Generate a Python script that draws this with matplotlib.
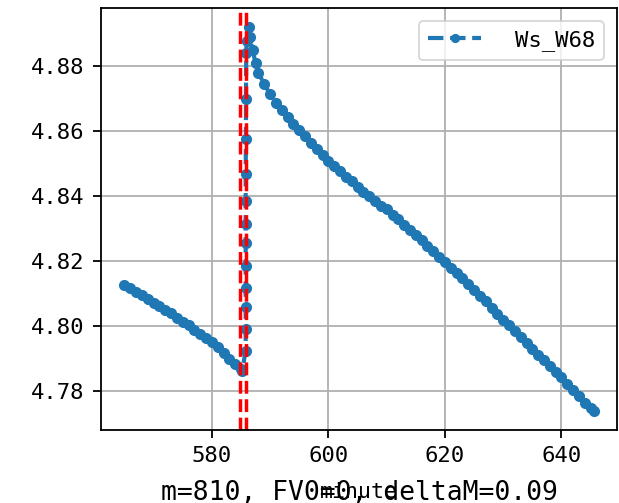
import numpy as np
import matplotlib
matplotlib.use("Agg")
import matplotlib.pyplot as plt

plt.rcParams['font.family'] = ['DejaVu Sans Mono', 'DejaVu Sans']

# minute readings before the jump
t_before = [565, 566, 567, 568, 569, 570, 571, 572, 573, 574, 575, 576, 577,
            578, 579, 580, 581, 582, 583, 584, 585, 585.2]
w_before = [4.8128, 4.8118, 4.8107, 4.8096, 4.8085, 4.8073, 4.8062, 4.8051,
            4.8040, 4.8027, 4.8013, 4.8003, 4.7990, 4.7978, 4.7964, 4.7951,
            4.7935, 4.7918, 4.7901, 4.7884, 4.7868, 4.7863]

# the jump itself
t_jump = [585.8, 585.8, 585.8, 585.8, 585.8, 585.8, 585.8, 585.8, 585.8,
          585.85, 585.85, 585.9, 586.0]
w_jump = [4.7925, 4.7993, 4.8061, 4.8119, 4.8187, 4.8258, 4.8316, 4.8387,
          4.8470, 4.8578, 4.8701, 4.8843, 4.8880]

# decay after the jump
t_after = [586.3, 586.5, 587, 587.5, 588, 589, 590, 591, 592, 593, 594, 595,
           596, 597, 598, 599, 600, 601, 602, 603, 604, 605, 606, 607, 608,
           609, 610, 611, 612, 613, 614, 615, 616, 617, 618, 619, 620, 621,
           622, 623, 624, 625, 626, 627, 628, 629, 630, 631, 632, 633, 634,
           635, 636, 637, 638, 639, 640, 641, 642, 643, 644, 645, 645.5]
w_after = [4.8921, 4.8890, 4.8850, 4.8810, 4.8780, 4.8745, 4.8715, 4.8688,
           4.8665, 4.8643, 4.8623, 4.8605, 4.8587, 4.8565, 4.8545, 4.8528,
           4.8510, 4.8494, 4.8478, 4.8461, 4.8447, 4.8430, 4.8415, 4.8400,
           4.8386, 4.8372, 4.8360, 4.8344, 4.8330, 4.8313, 4.8296, 4.8280,
           4.8265, 4.8248, 4.8232, 4.8215, 4.8198, 4.8181, 4.8164, 4.8148,
           4.8130, 4.8113, 4.8094, 4.8077, 4.8058, 4.8038, 4.8020, 4.8003,
           4.7987, 4.7968, 4.7950, 4.7930, 4.7912, 4.7895, 4.7878, 4.7860,
           4.7843, 4.7822, 4.7803, 4.7785, 4.7765, 4.7748, 4.7740]

vlines = [584.9, 585.85]
series_name = "Ws_W68"
note = "m=810, FV0=0, deltaM=0.09"

minute = np.array(t_before + t_jump + t_after)
ws = np.array(w_before + w_jump + w_after)

fig = plt.figure(figsize=(6.19, 5.03), dpi=100)
ax = fig.add_axes([101/619, 73/503, 516/619, 422/503])

ax.plot(minute, ws, '.--', color='#1f77b4', lw=3, ms=14, label=series_name)
for v in vlines:
    ax.axvline(v, color='red', ls='--', lw=2.5)

ax.set_xticks([580, 600, 620, 640])
ax.set_yticks([4.78, 4.80, 4.82, 4.84, 4.86, 4.88])
ax.grid(True, color='#b0b0b0', lw=1.3)
ax.tick_params(labelsize=16, length=6, width=1.3, pad=5.8)
for s in ax.spines.values():
    s.set_linewidth(1.3)

ax.set_xlabel("minute", fontsize=15.5, labelpad=11)
ax.text(0.5, -0.165, note, transform=ax.transAxes, ha='center',
        va='baseline', fontsize=19)

leg = ax.legend(loc='upper right', fontsize=16, handlelength=2.4,
                handletextpad=1.5, borderaxespad=0.6, markerscale=0.8)
leg.get_frame().set_linewidth(1.3)

fig.savefig("out.png", dpi=100)
